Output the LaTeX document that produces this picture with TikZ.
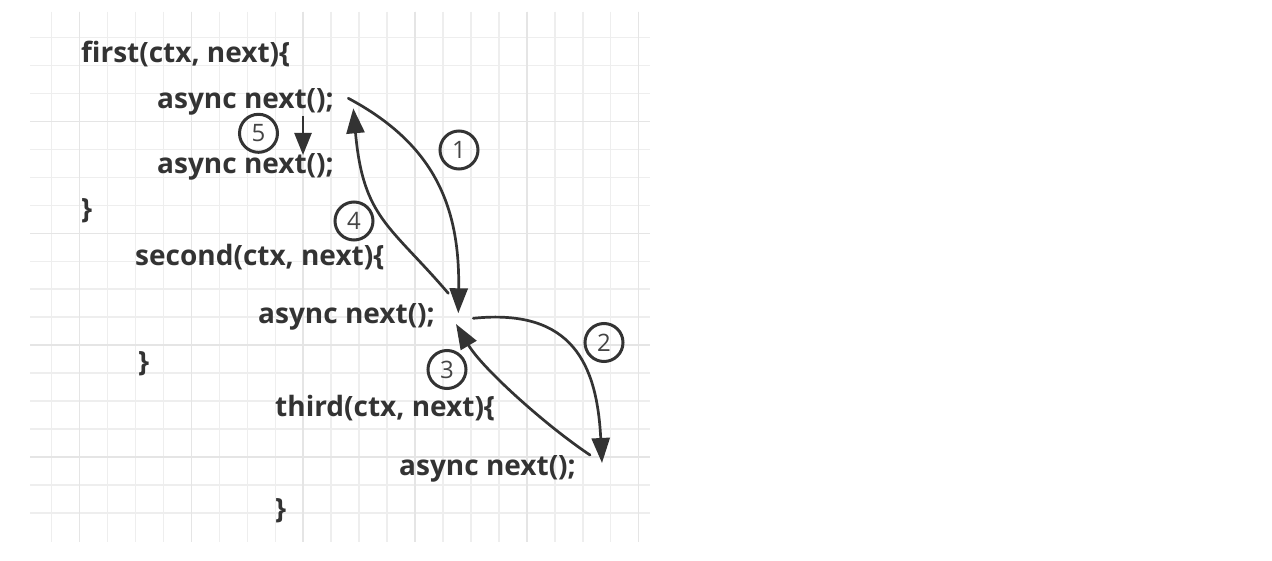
\documentclass[tikz,border=0pt]{standalone}
\usepackage{fontspec}
\setmainfont{Open Sans}
\usetikzlibrary{arrows.meta}
\definecolor{ink}{HTML}{333333}
\definecolor{gridminor}{HTML}{EEEEEE}
\definecolor{gridmajor}{HTML}{E5E5E5}
\definecolor{numgray}{HTML}{444444}
\tikzset{
  code/.style={anchor=base west, inner sep=0pt, text=ink, font=\fontsize{28}{34}\selectfont\bfseries},
  numcirc/.style={circle, draw=ink, line width=3pt, minimum size=38pt, inner sep=0pt, text=numgray, font=\fontsize{24}{28}\selectfont},
  flow/.style={draw=ink, line width=2.7pt, line cap=round, -{Triangle[length=25pt,width=18pt]}},
  smallflow/.style={draw=ink, line width=2.5pt, -{Triangle[length=22pt,width=17pt]}},
  minorline/.style={draw=gridminor, line width=1.5pt},
  majorline/.style={draw=gridmajor, line width=1.6pt}
}
\begin{document}
\begin{tikzpicture}[x=1pt, y=-1pt]
\useasboundingbox[fill=white] (0,0) rectangle (1272,561);
% grid
\foreach \k in {0,...,21} \draw[minorline] ({51.7+27.95*\k},11.7) -- ({51.7+27.95*\k},542);
\foreach \k in {0,...,17} \draw[minorline] (30,{37.7+27.95*\k}) -- (650,{37.7+27.95*\k});
\foreach \k in {1,5,9,13,17,21} \draw[majorline] ({51.7+27.95*\k},11.7) -- ({51.7+27.95*\k},542);
\foreach \k in {3,7,11,15} \draw[majorline] (30,{37.7+27.95*\k}) -- (650,{37.7+27.95*\k});
% code text
\node[code] (t1) at (81,63) {first(ctx, next)\{};
\node[code] (t2) at (157,109) {async next();};
\node[code] (t3) at (157,174) {async next();};
\node[code] (t4) at (81,219) {\}};
\node[code] (t5) at (135,266) {second(ctx, next)\{};
\node[code] (t6) at (258,324) {async next();};
\node[code] (t7) at (138,371) {\}};
\node[code] (t8) at (275,416) {third(ctx, next)\{};
\node[code] (t9) at (399,475) {async next();};
\node[code] (t10) at (275,518) {\}};
% step numbers
\node[numcirc] (c1) at (459,150) {1};
\node[numcirc] (c2) at (604,342.5) {2};
\node[numcirc] (c3) at (447,369.5) {3};
\node[numcirc] (c4) at (354,221) {4};
\node[numcirc] (c5) at (258.5,133.3) {5};
% arrow end points
\coordinate (a1s) at (348.3,98.3);
\coordinate (a1e) at (458.3,313.3);
\coordinate (a4s) at (448.3,293.3);
\coordinate (a4e) at (353.3,108.3);
\coordinate (a2s) at (473.3,318.3);
\coordinate (a2e) at (602,463);
\coordinate (a3s) at (590,455);
\coordinate (a3e) at (456,324);
\coordinate (a5s) at (303,116);
\coordinate (a5e) at (303,155);
% arrows
\draw[flow] (a1s) .. controls (431.9,143) and (460,203.3) .. (a1e);
\draw[flow] (a4s) .. controls (389.8,224.9) and (363.2,218.3) .. (a4e);
\draw[flow] (a2s) .. controls (573,308) and (597,365) .. (a2e);
\draw[flow] (a3s) .. controls (545,425) and (482,368) .. (a3e);
\draw[smallflow] (a5s) -- (a5e);
\end{tikzpicture}
\end{document}
